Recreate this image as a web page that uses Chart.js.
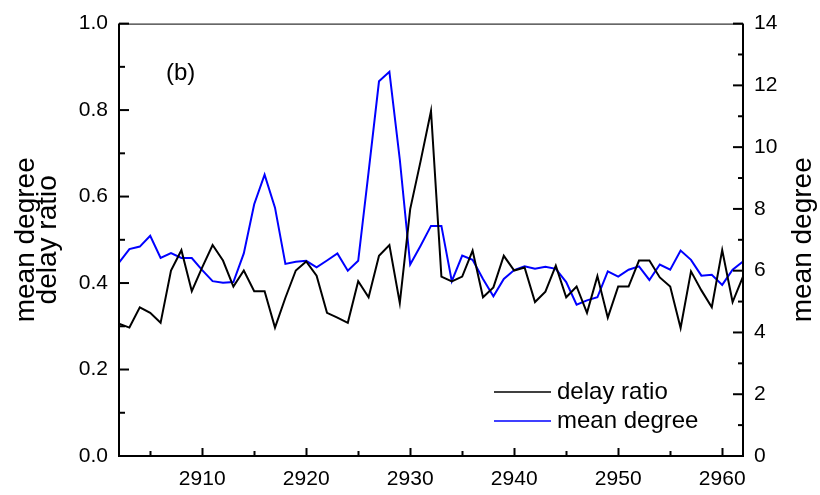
<!DOCTYPE html>
<html>
<head>
<meta charset="utf-8">
<script src="https://cdn.jsdelivr.net/npm/chart.js@4/dist/chart.umd.min.js"></script>
<style>
    html, body { margin: 0; padding: 0; background: #fff; }
    canvas { display: block; }
</style>
</head>
<body>
<canvas id="delay_degree_chart" width="820" height="495"></canvas>
<script>
var years = [
    2902, 2903, 2904, 2905, 2906, 2907, 2908, 2909, 2910, 2911,
    2912, 2913, 2914, 2915, 2916, 2917, 2918, 2919, 2920, 2921,
    2922, 2923, 2924, 2925, 2926, 2927, 2928, 2929, 2930, 2931,
    2932, 2933, 2934, 2935, 2936, 2937, 2938, 2939, 2940, 2941,
    2942, 2943, 2944, 2945, 2946, 2947, 2948, 2949, 2950, 2951,
    2952, 2953, 2954, 2955, 2956, 2957, 2958, 2959, 2960, 2961,
    2962
];
var delayRatio = [
    0.306, 0.297, 0.344, 0.331, 0.308, 0.429, 0.476, 0.381, 0.436, 0.488,
    0.452, 0.392, 0.429, 0.381, 0.381, 0.297, 0.366, 0.429, 0.450, 0.417,
    0.331, 0.320, 0.308, 0.404, 0.367, 0.463, 0.488, 0.354, 0.571, 0.682,
    0.798, 0.415, 0.404, 0.415, 0.475, 0.367, 0.390, 0.463, 0.429, 0.436,
    0.356, 0.380, 0.440, 0.367, 0.392, 0.331, 0.416, 0.320, 0.392, 0.392,
    0.452, 0.452, 0.413, 0.392, 0.296, 0.427, 0.383, 0.344, 0.476, 0.356,
    0.415
];
var meanDegree = [
    6.26, 6.70, 6.78, 7.13, 6.41, 6.57, 6.41, 6.41, 6.02, 5.66,
    5.61, 5.63, 6.56, 8.15, 9.11, 8.04, 6.22, 6.29, 6.32, 6.11,
    6.33, 6.56, 6.00, 6.32, 9.20, 12.13, 12.44, 9.60, 6.20, 6.81,
    7.45, 7.45, 5.66, 6.49, 6.35, 5.73, 5.17, 5.73, 6.02, 6.14,
    6.06, 6.13, 6.06, 5.63, 4.90, 5.04, 5.14, 5.98, 5.81, 6.03,
    6.14, 5.70, 6.20, 6.03, 6.65, 6.35, 5.84, 5.87, 5.54, 6.03,
    6.30
];
var xTickLabels = [2910, 2920, 2930, 2940, 2950, 2960];
var leftTickLabels = [0, 0.2, 0.4, 0.6, 0.8, 1.0];
var rightTickLabels = [0, 2, 4, 6, 8, 10, 12, 14];

var FONT = "'Liberation Sans', Arial, sans-serif";

function toPoints(values) {
    return years.map(function (yr, i) { return { x: yr, y: values[i] }; });
}

function fixedTicks(list) {
    return function (scale) {
        scale.ticks = list.map(function (v) { return { value: v }; });
    };
}

// frame, inward tick marks, titles, panel tag and legend
var framePlugin = {
    id: 'frame',
    afterDraw: function (chart) {
        var c = chart.ctx;
        var a = chart.chartArea;
        var sx = chart.scales.x, sy = chart.scales.y, sy2 = chart.scales.y2;
        c.save();
        c.strokeStyle = '#000';
        c.lineCap = 'butt';

        // top border is thin, the other three are heavier
        c.lineWidth = 1;
        c.beginPath();
        c.moveTo(a.left, a.top + 0.5);
        c.lineTo(a.right, a.top + 0.5);
        c.stroke();
        c.lineWidth = 2;
        c.beginPath();
        c.moveTo(a.left, a.top);
        c.lineTo(a.left, a.bottom);
        c.lineTo(a.right, a.bottom);
        c.lineTo(a.right, a.top);
        c.stroke();

        function ticks(list, minorStep, major, minor, draw) {
            list.forEach(function (v, i) {
                draw(v, major);
                if (i < list.length - 1) draw(v + minorStep, minor);
            });
        }
        ticks(xTickLabels, 5, 8, 5, function (v, len) {
            var p = Math.round(sx.getPixelForValue(v)) + 0.5;
            c.beginPath(); c.moveTo(p, a.bottom); c.lineTo(p, a.bottom - len); c.stroke();
        });
        var p0 = Math.round(sx.getPixelForValue(2905)) + 0.5;
        c.beginPath(); c.moveTo(p0, a.bottom); c.lineTo(p0, a.bottom - 5); c.stroke();

        ticks(leftTickLabels, 0.1, 10, 6, function (v, len) {
            var p = sy.getPixelForValue(v);
            c.beginPath(); c.moveTo(a.left, p); c.lineTo(a.left + len, p); c.stroke();
        });
        ticks(rightTickLabels, 1, 10, 5, function (v, len) {
            var p = sy2.getPixelForValue(v);
            c.beginPath(); c.moveTo(a.right, p); c.lineTo(a.right - len, p); c.stroke();
        });

        c.fillStyle = '#000';
        var midY = (a.top + a.bottom) / 2;
        c.font = '28px ' + FONT;
        c.textAlign = 'center';
        c.textBaseline = 'alphabetic';
        [['mean degree', 34], ['delay ratio', 56], ['mean degree', 811]].forEach(function (t) {
            c.save();
            c.translate(t[1], midY);
            c.rotate(-Math.PI / 2);
            c.fillText(t[0], 0, 0);
            c.restore();
        });

        c.font = '24px ' + FONT;
        c.textAlign = 'left';
        c.textBaseline = 'middle';
        c.fillText('(b)', 166, 73);

        chart.data.datasets.forEach(function (ds, i) {
            var y = 392 + i * 29;
            c.strokeStyle = ds.borderColor;
            c.lineWidth = 1.5;
            c.beginPath(); c.moveTo(494, y); c.lineTo(551, y); c.stroke();
            c.fillText(ds.label, 557, y);
        });
        c.restore();
    }
};

var ctx = document.getElementById('delay_degree_chart');
var chart = new Chart(ctx, {
    type: 'line',
    data: {
        datasets: [{
            label: 'delay ratio',
            data: toPoints(delayRatio),
            borderColor: '#000000',
            borderWidth: 2,
            pointRadius: 0,
            tension: 0,
            yAxisID: 'y'
        }, {
            label: 'mean degree',
            data: toPoints(meanDegree),
            borderColor: '#0000ff',
            borderWidth: 2,
            pointRadius: 0,
            tension: 0,
            yAxisID: 'y2'
        }]
    },
    options: {
        responsive: false,
        animation: false,
        layout: { padding: { top: 21, left: 0, right: 0, bottom: 0 } },
        plugins: { legend: { display: false }, tooltip: { enabled: false } },
        scales: {
            x: {
                type: 'linear',
                min: 2902,
                max: 2962,
                afterBuildTicks: fixedTicks(xTickLabels),
                afterFit: function (s) { s.height = 39; },
                grid: { display: false, drawTicks: false },
                border: { display: false },
                ticks: {
                    color: '#000',
                    font: { family: FONT, size: 21 },
                    padding: 11,
                    maxRotation: 0,
                    autoSkip: false,
                    callback: function (v) { return String(v); }
                }
            },
            y: {
                position: 'left',
                min: 0,
                max: 1,
                afterBuildTicks: fixedTicks(leftTickLabels),
                afterFit: function (s) { s.width = 119; },
                grid: { display: false, drawTicks: false },
                border: { display: false },
                ticks: {
                    color: '#000',
                    font: { family: FONT, size: 21 },
                    padding: 11,
                    callback: function (v) { return v.toFixed(1); }
                }
            },
            y2: {
                position: 'right',
                min: 0,
                max: 14,
                afterBuildTicks: fixedTicks(rightTickLabels),
                afterFit: function (s) { s.width = 77; },
                grid: { display: false, drawTicks: false },
                border: { display: false },
                ticks: {
                    color: '#000',
                    font: { family: FONT, size: 21 },
                    padding: 11,
                    callback: function (v) { return String(v); }
                }
            }
        }
    },
    plugins: [framePlugin]
});
</script>
</body>
</html>
